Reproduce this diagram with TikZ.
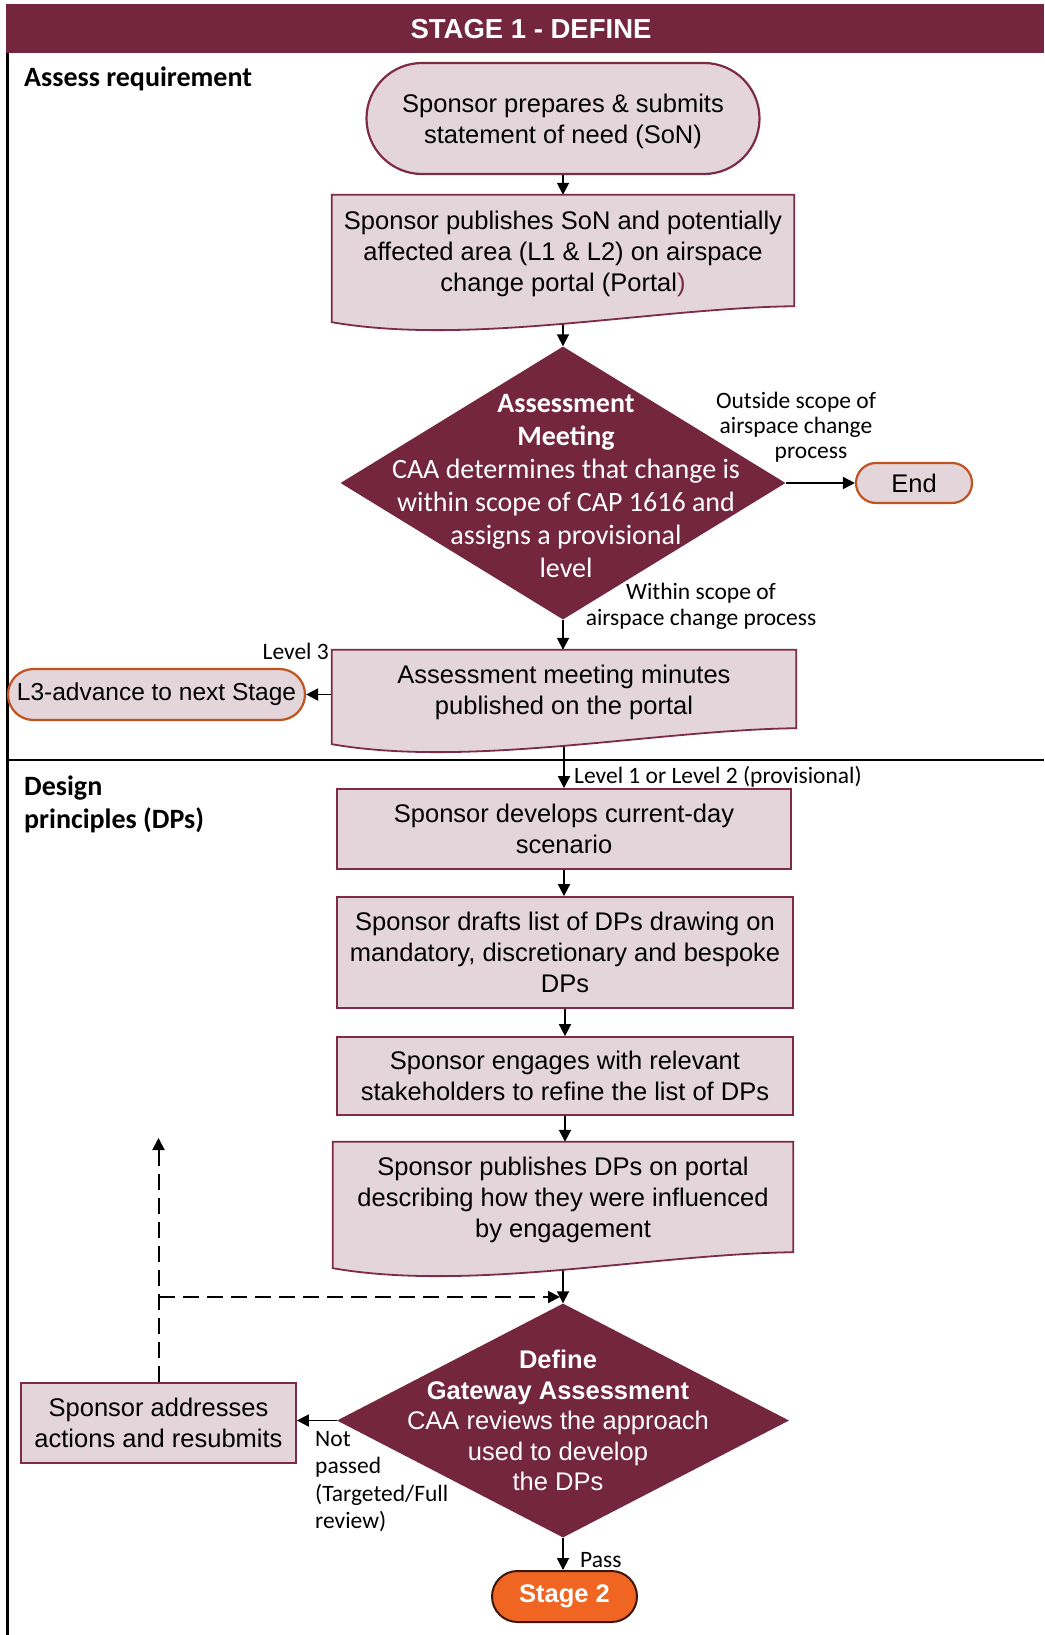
\documentclass[tikz,border=0pt]{standalone}
\usepackage{fontspec}
\setmainfont{Liberation Sans}
\newfontfamily\calfont{Carlito}
\usetikzlibrary{shapes.geometric,shapes.misc,arrows.meta,calc}
\pgfdeclarelayer{paper}
\pgfdeclarelayer{back}
\pgfdeclarelayer{shapes}
\pgfsetlayers{paper,back,shapes,main}

\definecolor{maroon}{RGB}{115,38,61}
\definecolor{boxline}{RGB}{126,44,70}
\definecolor{boxfill}{RGB}{227,213,217}
\definecolor{rust}{RGB}{192,84,32}
\definecolor{stagefill}{RGB}{240,101,34}
\definecolor{stageline}{RGB}{60,22,12}

\newcommand\boxfont{\fontsize{25.5}{31}\selectfont}
\newcommand\notefont{\calfont\fontsize{23.5}{25}\selectfont}
% taller first line, pushes a block of text a little lower
\newcommand\lowerstrut{\rule{0pt}{25pt}}

\tikzset{
  box/.style={draw=boxline, fill=boxfill, line width=1.8pt, inner sep=0pt,
    align=center, font=\boxfont},
  docnode/.style={inner sep=0pt, align=center, font=\boxfont},
  docshape/.style={draw=boxline, fill=boxfill, line width=1.8pt},
  term/.style={rounded rectangle, draw=rust, fill=boxfill, line width=2.2pt,
    inner sep=0pt, font=\boxfont},
  decision/.style={diamond, fill=maroon, inner sep=0pt},
  flow/.style={line width=1.8pt, -{Triangle[length=12pt,width=12pt]}},
  retflow/.style={flow, line width=2pt, dash pattern=on 16pt off 8pt},
  note/.style={inner sep=0pt, font=\notefont},
  lane/.style={inner sep=0pt, font=\calfont\bfseries\fontsize{28}{33}\selectfont}
}

% document-shaped box with a wavy lower edge
\newcommand\docoutline[1]{%
  \begin{pgfonlayer}{shapes}
    \filldraw[docshape] (#1.south east) -- (#1.north east) -- (#1.north west)
      -- ($(#1.south west)+(0,16)$)
      .. controls ($(#1.south west)+(139,40)$) and ($(#1.south east)+(-143,2)$)
      .. (#1.south east) -- cycle;
  \end{pgfonlayer}}

\begin{document}
\begin{tikzpicture}[x=1pt,y=-1pt]
\useasboundingbox (0,0) rectangle (1044,1635);
\begin{pgfonlayer}{paper}
  \fill[white] (0,0) rectangle (1044,1635);
\end{pgfonlayer}

% frame, title bar and lane separator
\fill[maroon] (6,4) rectangle (1044,53);
\draw[line width=2.5pt] (7.5,53) -- (7.5,1635);
\draw[line width=2.5pt] (7.5,760) -- (1044,760);
\node[inner sep=0pt, text=white, font=\bfseries\fontsize{27.5}{30}\selectfont] (title) at (531,29) {STAGE 1 - DEFINE};

% lane headings
\node[lane, anchor=base west] (lane1) at (24,87) {Assess requirement};
\node[lane, anchor=north west, align=left] (lane2) at (24,776) {Design\\principles (DPs)};

% assess requirement
\node[term, draw=boxline, minimum width=393pt, minimum height=111pt, align=center] (start) at (563,118.5)
  {\lowerstrut Sponsor prepares \& submits\\statement of need (SoN)};
\node[docnode, minimum width=462pt, minimum height=111pt] (d1) at (563,250.5)
  {\lowerstrut Sponsor publishes SoN and potentially\\affected area (L1 \& L2) on airspace\\change portal (Portal\textcolor{boxline}{)}};
\docoutline{d1}

\node[decision, minimum width=445pt, minimum height=273pt,
  label={[text=white, align=center, font=\calfont\fontsize{28}{33}\selectfont, xshift=3pt, yshift=-3pt]center:{\bfseries Assessment\\\bfseries Meeting\\CAA determines that change is\\within scope of CAP 1616 and\\assigns a provisional\\level}}]
  (dm1) at (563,483) {};

\node[term, minimum width=116pt, minimum height=40pt] (end) at (914,483) {End};

\node[docnode, minimum width=464pt, minimum height=78pt] (d2) at (564,689)
  {\lowerstrut Assessment meeting minutes\\published on the portal};
\docoutline{d2}

\node[term, minimum width=297pt, minimum height=51pt, font=\fontsize{24.5}{28}\selectfont] (l3) at (156.5,694.5) {L3-advance to next Stage};

% design principles
\node[box, minimum width=454pt, minimum height=80pt] (r1) at (564,829)
  {Sponsor develops current-day\\scenario};
\node[box, minimum width=456pt, minimum height=111pt] (r2) at (565,952.5)
  {Sponsor drafts list of DPs drawing on\\mandatory, discretionary and bespoke\\DPs};
\node[box, minimum width=456pt, minimum height=78pt] (r3) at (565,1076)
  {Sponsor engages with relevant\\stakeholders to refine the list of DPs};
\node[docnode, minimum width=460pt, minimum height=110pt] (d3) at (563,1197)
  {\lowerstrut Sponsor publishes DPs on portal\\describing how they were influenced\\by engagement};
\docoutline{d3}

\node[decision, minimum width=452pt, minimum height=234pt,
  label={[text=white, align=center, font=\fontsize{25.5}{30.5}\selectfont, xshift=-5pt]center:{\bfseries Define\\\bfseries Gateway Assessment\\CAA reviews the approach\\used to develop\\the DPs}}]
  (dm2) at (563,1420.5) {};

\node[box, minimum width=275pt, minimum height=80pt] (r4) at (158.5,1423)
  {Sponsor addresses\\actions and resubmits};

\node[rounded rectangle, draw=stageline, fill=stagefill, line width=2pt, inner sep=0pt,
  minimum width=145pt, minimum height=51pt, text=white,
  font=\bfseries\fontsize{25.5}{28}\selectfont] (stage2) at (564.5,1596.5) {Stage 2};

% connector labels
\node[note, align=center] (outside) at (796,427) {Outside scope of\\airspace change\\\hspace*{30pt}process};
\node[note, align=center, font=\calfont\fontsize{23.5}{26}\selectfont] (within) at (701,606) {Within scope of\\airspace change process};
\node[note, anchor=base east] (lvl3) at (329,659) {Level 3};
\node[note, anchor=base west] (lvl12) at (574,783) {Level 1 or Level 2 (provisional)};
\node[note, anchor=north west, align=left, font=\calfont\fontsize{23.5}{27.5}\selectfont] (notpassed) at (315,1431)
  {Not\\passed\\(Targeted/Full\\review)};
\node[note, anchor=base west] (pass) at (580,1567) {Pass};

% return path of the gateway loop
\coordinate (ret) at (158.5,1138);
\coordinate (junc) at (158.5,1297);
\coordinate (jend) at (560,1297);

% connectors
\begin{pgfonlayer}{back}
  \draw[flow] (start.south) -- (start.south |- d1.north);
  \draw[flow] (d1.south) -- (d1.south |- dm1.north);
  \draw[flow] (dm1.east) -- (end.west);
  \draw[flow] (dm1.south) -- (dm1.south |- d2.north);
  \draw[flow] (d2.west |- l3.east) -- (l3.east);
  \draw[flow] (d2.south) -- (d2.south |- r1.north);
  \draw[flow] (r1.south) -- (r1.south |- r2.north);
  \draw[flow] (r2.south) -- (r2.south |- r3.north);
  \draw[flow] (r3.south) -- (r3.south |- d3.north);
  \draw[flow] (d3.south) -- (d3.south |- dm2.north);
  \draw[flow] (dm2.west) -- (dm2.west -| r4.east);
  \draw[flow] (dm2.south) -- (dm2.south |- stage2.north);
  \draw[retflow] (r4.north) -- (ret);
  \draw[retflow] (junc) -- (jend);
\end{pgfonlayer}
\end{tikzpicture}
\end{document}
